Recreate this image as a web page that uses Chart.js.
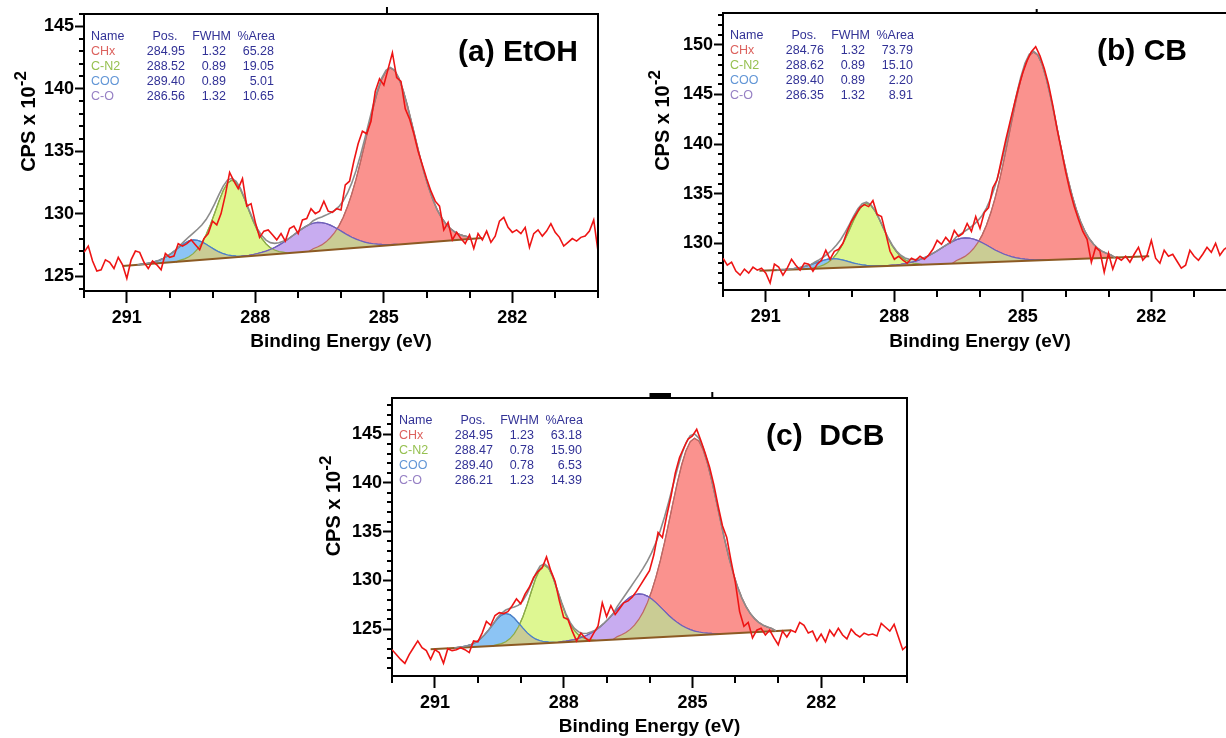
<!DOCTYPE html>
<html><head><meta charset="utf-8">
<script src="https://cdn.jsdelivr.net/npm/chart.js@4.4.1/dist/chart.umd.min.js"></script>
<style>
html,body{margin:0;padding:0;background:#fff;overflow:hidden;width:1226px;height:738px;position:relative;}
canvas{position:absolute;}
</style></head><body>
<canvas id="ca" width="610" height="360" style="left:0px;top:0px;width:610px;height:360px"></canvas>
<canvas id="cb" width="610" height="360" style="left:640px;top:0px;width:610px;height:360px"></canvas>
<canvas id="cc" width="610" height="354" style="left:308px;top:384px;width:610px;height:354px"></canvas>
<script>
// ---------- shared ----------
const energyStart = 292.0;   // first raw channel (eV)
const energyStep = 0.1;      // channel width (eV)
const xTickLabels = [291, 288, 285, 282];
const compNames = ['CHx', 'C-N2', 'COO', 'C-O'];

// ---------- (a) EtOH ----------
const rawA = [126.9,127.4,126.2,125.4,125.5,126.3,126.1,125.6,126.5,125.9,124.8,
126.3,127.0,126.9,126.1,125.6,126.2,125.9,125.5,126.8,126.5,
126.6,127.6,127.4,127.6,127.9,127.5,127.1,128.0,128.4,129.4,
129.1,130.0,131.5,133.3,132.6,132.0,132.8,130.6,130.8,129.3,
128.1,128.6,128.7,128.3,127.9,128.4,127.8,128.8,129.0,128.4,
129.5,129.6,130.4,130.0,130.2,131.0,130.2,130.1,130.4,130.3,
132.3,132.6,134.2,135.6,136.6,136.4,137.4,139.8,140.8,140.3,
141.6,142.9,140.9,140.6,138.4,137.6,136.4,135.0,133.9,132.8,
131.8,131.0,130.6,128.7,129.3,127.9,128.5,128.0,127.6,128.3,
127.2,128.4,127.9,128.6,127.7,128.2,129.4,129.7,128.9,128.5,
128.7,128.4,128.9,127.3,128.4,128.7,128.2,128.6,129.2,128.5,
128.1,127.4,127.7,128.0,127.8,128.1,128.2,128.6,129.5,127.0];
const bgEnergyA = [291.1, 282.7];
const bgCpsA = [125.8, 128.05];
const compStartA = [286.75, 289.85, 290.75, 288.45];
const chxA = [0,.20,.31,.45,.67,.97,1.35,1.86,2.51,3.34,4.33,5.48,6.79,8.21,9.67,11.08,12.34,13.33,13.97,14.2,13.97,13.33,12.34,11.08,9.67,8.21,6.79,5.48,4.33,3.34,2.51,1.86,1.35,.97,.67,.45,.31,.20,0];
const cn2A = [0,.11,.19,.33,.55,.88,1.35,1.98,2.77,3.66,4.59,5.42,6.00,6.2,6.00,5.42,4.59,3.66,2.77,1.98,1.35,.88,.55,.33,.19,.11,0];
const cooA = [0,.03,.05,.09,.15,.23,.36,.53,.74,.98,1.22,1.44,1.60,1.65,1.60,1.44,1.22,.98,.74,.53,.36,.23,.15,.09,.05,.03,0];
const coA = [0,.03,.05,.07,.11,.16,.22,.30,.40,.54,.70,.88,1.09,1.32,1.55,1.78,1.98,2.14,2.24,2.28,2.24,2.14,1.98,1.78,1.55,1.32,1.09,.88,.70,.54,.40,.30,.22,.16,.11,.07,.05,.03,0];
const posA = ['284.95','288.52','289.40','286.56'];
const fwhmA = ['1.32','0.89','0.89','1.32'];
const areaA = ['65.28','19.05','5.01','10.65'];
const yTicksA = [125,130,135,140,145];
const yRangeA = [123.8, 146.0];

// ---------- (b) CB ----------
const rawB = [128.5,127.8,128.1,127.2,126.8,127.4,127.0,127.6,127.3,127.5,127.0,
126.0,127.9,127.6,126.8,127.5,128.4,127.8,127.3,128.0,127.9,
127.2,127.9,128.3,129.3,128.4,129.2,129.4,130.0,131.2,132.2,
132.9,133.6,133.9,133.7,134.3,132.9,132.7,131.0,129.2,128.4,
128.7,128.3,128.0,128.5,128.3,128.7,128.4,128.8,129.4,130.3,
129.9,130.6,130.1,131.3,130.7,131.0,132.0,131.2,132.7,131.5,
133.1,133.6,135.6,136.4,138.4,140.4,142.2,144.0,145.7,147.2,
148.4,149.3,149.8,148.9,147.6,146.0,143.9,141.5,139.4,137.2,
135.3,133.7,132.4,131.2,130.4,128.1,129.6,129.2,127.1,129.0,
127.4,128.6,128.3,128.7,128.1,128.9,129.6,128.3,128.8,130.3,
128.5,128.0,129.3,128.7,128.9,128.2,127.5,127.8,129.3,128.7,
128.3,128.9,129.6,129.1,130.0,128.8,129.4,129.7,128.9,129.2];
const bgEnergyB = [291.15, 282.05];
const bgCpsB = [127.25, 128.7];
const compStartB = [286.65, 289.95, 290.75, 288.25];
const chxB = [0,.29,.46,.67,.99,1.43,2.00,2.75,3.72,4.94,6.41,8.11,10.04,12.14,14.30,16.38,18.25,19.72,20.66,21.0,20.66,19.72,18.25,16.38,14.30,12.14,10.04,8.11,6.41,4.94,3.72,2.75,2.00,1.43,.99,.67,.46,.29,0];
const cn2B = [0,.11,.19,.34,.56,.90,1.39,2.03,2.84,3.76,4.72,5.57,6.16,6.37,6.16,5.57,4.72,3.76,2.84,2.03,1.39,.90,.56,.34,.19,.11,0];
const cooB = [0,.02,.03,.05,.08,.13,.20,.30,.41,.55,.69,.81,.90,.93,.90,.81,.69,.55,.41,.30,.20,.13,.08,.05,.03,.02,0];
const coB = [0,.04,.06,.08,.12,.17,.24,.33,.45,.60,.77,.98,1.21,1.47,1.73,1.98,2.21,2.39,2.50,2.54,2.50,2.39,2.21,1.98,1.73,1.47,1.21,.98,.77,.60,.45,.33,.24,.17,.12,.08,.06,.04,0];
const posB = ['284.76','288.62','289.40','286.35'];
const fwhmB = ['1.32','0.89','0.89','1.32'];
const areaB = ['73.79','15.10','2.20','8.91'];
const yTicksB = [130,135,140,145,150];
const yRangeB = [125.3, 153.2];

// ---------- (c) DCB ----------
const rawC = [122.9,122.4,121.9,121.5,122.4,123.1,123.8,123.1,122.8,121.9,122.9,
122.6,121.5,123.0,122.8,122.9,123.1,122.9,122.6,123.8,123.7,
124.6,125.8,125.4,126.4,126.7,126.6,126.8,127.4,128.1,127.6,
128.6,129.3,130.3,130.9,131.3,132.4,131.0,129.9,127.9,126.2,
126.0,124.8,123.8,124.6,124.1,123.8,124.6,125.3,127.7,126.3,
127.4,126.5,127.1,127.7,127.9,128.3,128.9,129.6,130.3,131.0,
132.6,134.9,134.4,136.6,138.6,141.0,142.6,143.6,144.5,144.8,
145.5,144.3,143.0,141.6,139.8,137.6,135.6,134.4,132.0,129.8,
126.8,125.3,125.7,124.1,124.9,125.1,124.4,124.9,124.1,123.4,
124.8,124.2,124.9,124.7,125.7,125.4,124.6,124.8,123.8,124.5,
123.7,124.9,124.3,125.1,124.4,124.0,125.0,124.5,124.2,124.6,
124.4,124.5,124.3,125.6,125.2,124.8,125.5,124.2,122.9,123.3];
const bgEnergyC = [291.1, 282.7];
const bgCpsC = [122.95, 124.9];
const compStartC = [286.85, 289.65, 290.55, 288.15];
const chxC = [0,.28,.44,.65,.95,1.37,1.92,2.65,3.58,4.75,6.16,7.80,9.66,11.68,13.76,15.76,17.55,18.97,19.88,20.2,19.88,18.97,17.55,15.76,13.76,11.68,9.66,7.80,6.16,4.75,3.58,2.65,1.92,1.37,.95,.65,.44,.28,0];
const cn2C = [0,.10,.19,.36,.66,1.14,1.84,2.82,4.05,5.42,6.71,7.66,8.0,7.66,6.71,5.42,4.05,2.82,1.84,1.14,.66,.36,.19,.10,0];
const cooC = [0,.04,.08,.15,.27,.46,.75,1.15,1.65,2.20,2.73,3.11,3.25,3.11,2.73,2.20,1.65,1.15,.75,.46,.27,.15,.08,.04,0];
const coC = [0,.06,.10,.15,.21,.31,.43,.60,.81,1.07,1.39,1.76,2.17,2.63,3.10,3.55,3.95,4.27,4.48,4.55,4.48,4.27,3.95,3.55,3.10,2.63,2.17,1.76,1.39,1.07,.81,.60,.43,.31,.21,.15,.10,.06,0];
const posC = ['284.95','288.47','289.40','286.21'];
const fwhmC = ['1.23','0.78','0.78','1.23'];
const areaC = ['63.18','15.90','6.53','14.39'];
const yTicksC = [125,130,135,140,145];
const yRangeC = [120.2, 148.7];

// ---------- styling ----------
const FONT = '"Liberation Sans", Arial, Helvetica, sans-serif';
Chart.defaults.font.family = FONT;
const nameColors = ['rgb(220,98,94)','rgb(150,192,80)','rgb(98,150,214)','rgb(150,128,196)'];
const fillColors = ['rgb(250,146,142)','rgb(222,247,146)','rgb(140,196,244)','rgb(200,172,240)'];
const edgeColors = ['rgb(190,104,100)','rgb(140,172,72)','rgb(76,128,200)','rgb(112,96,186)'];
const overlapColor = 'rgb(202,204,148)';
const navy = 'rgb(50,50,150)';

function r2(v){ return Math.round(v*100)/100; }
function bgAt(E, bgE, bgY){ return bgY[0] + (bgY[1]-bgY[0])*(E-bgE[0])/(bgE[1]-bgE[0]); }

const panelCfg = {};

const overlapPlugin = {
  id: 'overlap',
  afterDatasetDraw(chart, args) {
    if (args.index !== 6) return;
    const ctx = chart.ctx, a = chart.chartArea;
    const metas = [3,4,5,6].map(i => chart.getDatasetMeta(i));
    ctx.save();
    ctx.beginPath(); ctx.rect(a.left, a.top, a.right-a.left, a.bottom-a.top); ctx.clip();
    for (let i = 0; i < 4; i++) for (let j = i+1; j < 4; j++) {
      ctx.save();
      ctx.beginPath(); metas[i].dataset.path(ctx); ctx.closePath(); ctx.clip();
      ctx.beginPath(); metas[j].dataset.path(ctx); ctx.closePath();
      ctx.fillStyle = overlapColor; ctx.fill();
      ctx.restore();
    }
    metas.forEach(m => m.dataset.draw(ctx, a));
    ctx.restore();
  }
};

const decorPlugin = {
  id: 'decor',
  afterDraw(chart) {
    const P = panelCfg[chart.canvas.id];
    const ctx = chart.ctx, a = chart.chartArea, xs = chart.scales.x, ys = chart.scales.y;
    ctx.save();
    ctx.strokeStyle = '#000'; ctx.lineWidth = 2;
    ctx.beginPath(); ctx.moveTo(a.left-1, a.top); ctx.lineTo(a.right, a.top); ctx.lineTo(a.right, a.bottom+1); ctx.stroke();
    // minor ticks
    ctx.beginPath();
    for (let v = Math.ceil(xs.min); v <= Math.floor(xs.max); v++) {
      if (xTickLabels.includes(v)) continue;
      const px = Math.round(xs.getPixelForValue(v));
      ctx.moveTo(px, a.bottom); ctx.lineTo(px, a.bottom + 7);
    }
    for (let v = Math.ceil(ys.min); v <= Math.floor(ys.max); v++) {
      if (v % 5 === 0) continue;
      const py = Math.round(ys.getPixelForValue(v));
      ctx.moveTo(a.left - 5, py); ctx.lineTo(a.left, py);
    }
    ctx.stroke();
    // small marks above the frame
    P.marks.forEach(m => {
      ctx.fillStyle = '#000';
      const x1 = xs.getPixelForValue(m.e1), x2 = xs.getPixelForValue(m.e2);
      ctx.fillRect(Math.min(x1,x2), a.top + m.dy, Math.max(2, Math.abs(x2-x1)), m.h);
    });
    // y title with superscript
    ctx.save();
    ctx.translate(a.left + P.yTitleDx, (a.top + a.bottom)/2 - 31);
    ctx.rotate(-Math.PI/2);
    ctx.fillStyle = '#000'; ctx.textBaseline = 'middle'; ctx.textAlign = 'left';
    ctx.font = 'bold 20px ' + FONT;
    const w1 = ctx.measureText('CPS x 10').width;
    ctx.font = 'bold 17px ' + FONT;
    const w2 = ctx.measureText('-2').width;
    const tot = w1 + w2;
    ctx.font = 'bold 20px ' + FONT;
    ctx.fillText('CPS x 10', -tot/2, 0);
    ctx.font = 'bold 17px ' + FONT;
    ctx.fillText('-2', -tot/2 + w1, -8);
    ctx.restore();
    // table
    ctx.font = '12.5px ' + FONT;
    ctx.textBaseline = 'middle';
    ctx.fillStyle = navy;
    const ty = [23, 38, 53, 68, 83].map(d => a.top + d);
    ctx.textAlign = 'left'; ctx.fillText('Name', a.left + 7, ty[0]);
    ctx.textAlign = 'center'; ctx.fillText('Pos.', a.left + 81, ty[0]);
    ctx.textAlign = 'right'; ctx.fillText('FWHM', a.left + 147, ty[0]); ctx.fillText('%Area', a.left + 191, ty[0]);
    for (let i = 0; i < 4; i++) {
      ctx.textAlign = 'left'; ctx.fillStyle = nameColors[i];
      ctx.fillText(compNames[i], a.left + 7, ty[i+1]);
      ctx.fillStyle = navy; ctx.textAlign = 'right';
      ctx.fillText(P.pos[i], a.left + 101, ty[i+1]);
      ctx.fillText(P.fwhm[i], a.left + 142, ty[i+1]);
      ctx.fillText(P.area[i], a.left + 190, ty[i+1]);
    }
    // panel label
    ctx.font = 'bold 30px ' + FONT; ctx.fillStyle = '#000'; ctx.textAlign = 'left';
    ctx.fillText(P.label, a.left + 374, a.top + 39);
    ctx.restore();
  }
};

function makePanel(id, P) {
  panelCfg[id] = P;
  const raw = P.raw.map((v, i) => ({x: r2(energyStart - i*energyStep), y: v}));
  const comps = P.comps.map((arr, k) => arr.map((net, i) => {
    const E = r2(P.compStart[k] - i*energyStep);
    return {x: E, y: bgAt(E, P.bgE, P.bgY) + net, net: net};
  }));
  const sum = new Map();
  comps.forEach(c => c.forEach(pt => { const key = Math.round(pt.x*100); sum.set(key, (sum.get(key) || 0) + pt.net); }));
  const keys = [...sum.keys()].sort((p, q) => q - p);
  const env = keys.map(k => ({x: k/100, y: bgAt(k/100, P.bgE, P.bgY) + sum.get(k)}));
  const bg = P.bgE.map((e, i) => ({x: e, y: P.bgY[i]}));
  const compOrder = [6, 5, 4, 3];
  const datasets = [
    {label: 'data', data: raw, borderColor: 'rgb(238,20,20)', borderWidth: 1.6, pointRadius: 0, fill: false, order: 0},
    {label: 'envelope', data: env, borderColor: 'rgb(140,140,140)', borderWidth: 1.6, pointRadius: 0, fill: false, order: 1},
    {label: 'background', data: bg, borderColor: 'rgb(140,90,35)', borderWidth: 2, pointRadius: 0, fill: false, order: 2}
  ].concat(comps.map((c, k) => ({
    label: compNames[k], data: c, borderColor: edgeColors[k], backgroundColor: fillColors[k],
    borderWidth: 1.2, pointRadius: 0, fill: 'shape', order: compOrder[k]
  })));
  new Chart(document.getElementById(id), {
    type: 'line',
    data: {datasets: datasets},
    plugins: [overlapPlugin, decorPlugin],
    options: {
      responsive: false, animation: false, devicePixelRatio: 1,
      parsing: {xAxisKey: 'x', yAxisKey: 'y'},
      layout: {padding: {top: P.padTop, right: P.padRight, left: 0, bottom: 0}},
      plugins: {legend: {display: false}, tooltip: {enabled: false}},
      scales: {
        x: {
          type: 'linear', reverse: true, min: 280, max: 292,
          afterFit(s) { s.height = P.xHeight; },
          afterBuildTicks(s) { s.ticks = xTickLabels.map(v => ({value: v})); },
          ticks: {color: '#000', font: {size: 18, weight: 'bold'}, padding: 4, maxRotation: 0, autoSkip: false, callback: v => String(v)},
          grid: {drawOnChartArea: false, drawTicks: true, tickLength: 12, tickWidth: 2, tickColor: '#000'},
          border: {display: true, color: '#000', width: 2},
          title: {display: true, text: 'Binding Energy (eV)', color: '#000', font: {size: 19, weight: 'bold'}, padding: {top: 0, bottom: P.xTitlePad}}
        },
        y: {
          type: 'linear', min: P.yRange[0], max: P.yRange[1],
          afterFit(s) { s.width = P.yWidth; },
          afterBuildTicks(s) { s.ticks = P.yTicks.map(v => ({value: v})); },
          ticks: {color: '#000', font: {size: 18, weight: 'bold'}, padding: 1, callback: v => String(v)},
          grid: {drawOnChartArea: false, drawTicks: true, tickLength: 9, tickWidth: 2, tickColor: '#000'},
          border: {display: true, color: '#000', width: 2}
        }
      }
    }
  });
}

makePanel('ca', {raw: rawA, bgE: bgEnergyA, bgY: bgCpsA, compStart: compStartA, comps: [chxA, cn2A, cooA, coA],
  pos: posA, fwhm: fwhmA, area: areaA, yTicks: yTicksA, yRange: yRangeA, label: '(a) EtOH',
  padTop: 14, padRight: 12, yWidth: 84, xHeight: 69, xTitlePad: 7, yTitleDx: -55,
  marks: [{e1: 284.95, e2: 284.95, dy: -7, h: 7}]});
makePanel('cb', {raw: rawB, bgE: bgEnergyB, bgY: bgCpsB, compStart: compStartB, comps: [chxB, cn2B, cooB, coB],
  pos: posB, fwhm: fwhmB, area: areaB, yTicks: yTicksB, yRange: yRangeB, label: '(b) CB',
  padTop: 13, padRight: 13, yWidth: 83, xHeight: 70, xTitlePad: 7, yTitleDx: -60,
  marks: [{e1: 284.7, e2: 284.7, dy: -4, h: 4}]});
makePanel('cc', {raw: rawC, bgE: bgEnergyC, bgY: bgCpsC, compStart: compStartC, comps: [chxC, cn2C, cooC, coC],
  pos: posC, fwhm: fwhmC, area: areaC, yTicks: yTicksC, yRange: yRangeC, label: '(c)  DCB',
  padTop: 14, padRight: 11, yWidth: 84, xHeight: 62, xTitlePad: 0, yTitleDx: -58,
  marks: [{e1: 286.0, e2: 285.5, dy: -5, h: 4}, {e1: 284.56, e2: 284.56, dy: -6, h: 6}]});
</script>
</body></html>
